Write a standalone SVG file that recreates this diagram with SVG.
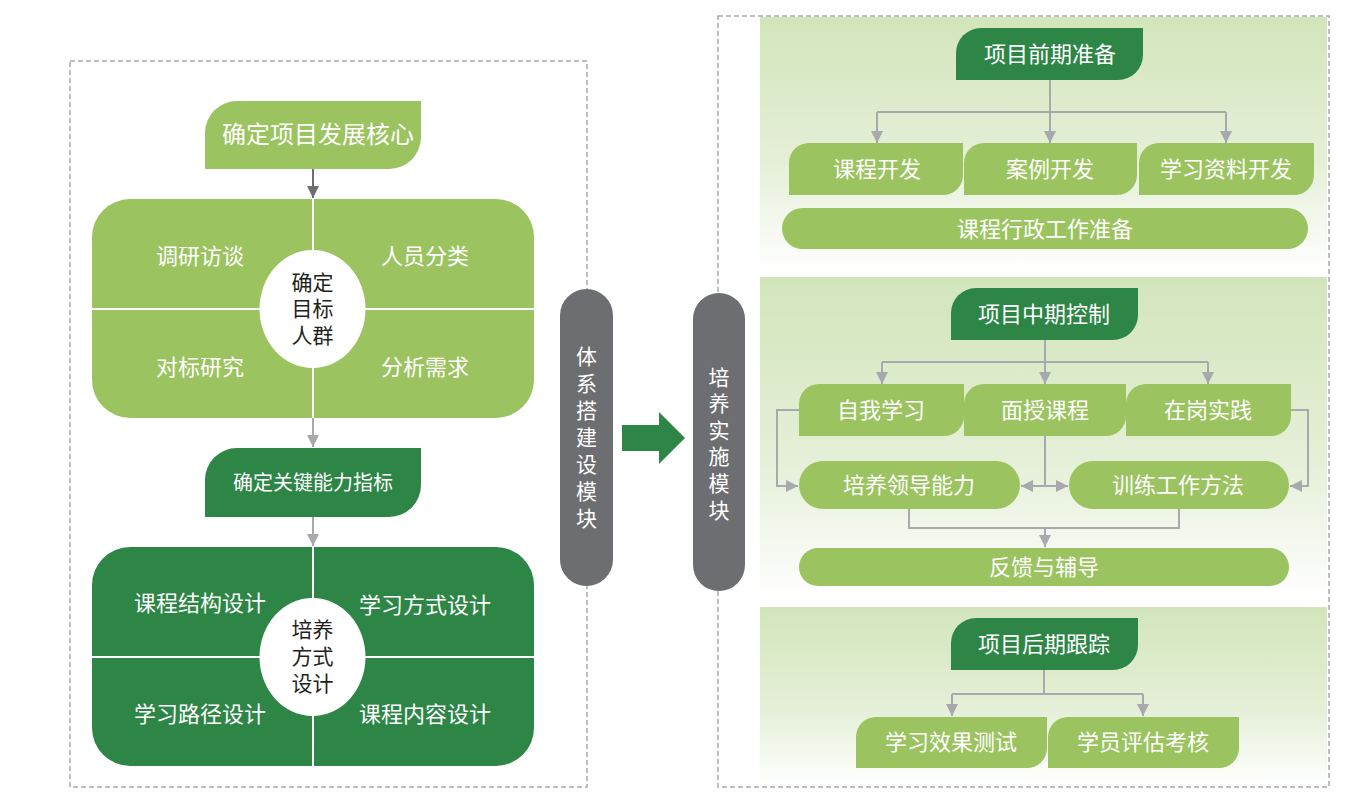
<svg xmlns="http://www.w3.org/2000/svg" width="1362" height="811" viewBox="0 0 1362 811">
<defs>
<style>
.t{font-family:"Noto Sans CJK SC","Noto Sans",sans-serif;fill:#fff;text-anchor:middle}
.tb{font-family:"Liberation Sans","Noto Sans CJK SC",sans-serif;fill:#231F20;text-anchor:middle}
.tv{font-family:"Noto Sans CJK SC","Noto Sans",sans-serif;fill:#fff;text-anchor:middle;writing-mode:vertical-rl;letter-spacing:6px}
.lg{fill:#9BC460}
.dg{fill:#2D8646}
.pill{fill:#6D6E71}
.dash{fill:none;stroke:#A7A9AC;stroke-width:1.5;stroke-dasharray:5 3}
.c{fill:none;stroke:#A7A9AC;stroke-width:2}
.cd{fill:none;stroke:#6D6E71;stroke-width:2}
.div{stroke:#fff;stroke-width:2}
</style>
<linearGradient id="pg" x1="0" y1="0" x2="0" y2="1">
<stop offset="0" stop-color="#D2E5BA"/>
<stop offset="0.6" stop-color="#E6F0DA"/>
<stop offset="1" stop-color="#FFFFFF"/>
</linearGradient>
<marker id="ah" viewBox="0 0 10 10" refX="10" refY="5" markerWidth="12" markerHeight="12" markerUnits="userSpaceOnUse" orient="auto"><path d="M0,0 L10,5 L0,10 z" fill="#A7A9AC"/></marker>
<marker id="ahd" viewBox="0 0 10 10" refX="10" refY="5" markerWidth="12" markerHeight="12" markerUnits="userSpaceOnUse" orient="auto"><path d="M0,0 L10,5 L0,10 z" fill="#6D6E71"/></marker>
</defs>
<rect width="1362" height="811" fill="#fff"/>

<!-- frames -->
<rect class="dash" x="70" y="61" width="517" height="726"/>
<rect class="dash" x="718" y="16" width="611" height="771"/>

<!-- right panels -->
<rect x="760" y="17" width="567" height="253" fill="url(#pg)"/>
<rect x="760" y="277" width="567" height="321" fill="url(#pg)"/>
<rect x="760" y="607" width="567" height="179" fill="url(#pg)"/>

<!-- connectors -->
<g id="connectors">
<line class="cd" x1="313" y1="169" x2="313" y2="198" marker-end="url(#ahd)"/>
<line class="c" x1="313" y1="418" x2="313" y2="447" marker-end="url(#ah)"/>
<line class="c" x1="313" y1="517" x2="313" y2="546" marker-end="url(#ah)"/>
<polygon points="622,425 659,425 659,412 685,438 659,464 659,451 622,451" fill="#2D8646"/>
<!-- panel 1 -->
<path class="c" d="M1050,80 V112"/>
<path class="c" d="M877,112 H1226"/>
<line class="c" x1="877" y1="112" x2="877" y2="143" marker-end="url(#ah)"/>
<line class="c" x1="1050" y1="112" x2="1050" y2="143" marker-end="url(#ah)"/>
<line class="c" x1="1226" y1="112" x2="1226" y2="143" marker-end="url(#ah)"/>
<!-- panel 2 -->
<path class="c" d="M1045,340 V362"/>
<path class="c" d="M882,362 H1208"/>
<line class="c" x1="882" y1="362" x2="882" y2="384" marker-end="url(#ah)"/>
<line class="c" x1="1045" y1="362" x2="1045" y2="384" marker-end="url(#ah)"/>
<line class="c" x1="1208" y1="362" x2="1208" y2="384" marker-end="url(#ah)"/>
<path class="c" d="M799,410 H777 V486 H798" marker-end="url(#ah)"/>
<path class="c" d="M1291,410 H1308 V486 H1290" marker-end="url(#ah)"/>
<path class="c" d="M1045,436 V486"/>
<line class="c" x1="1045" y1="486" x2="1021" y2="486" marker-end="url(#ah)"/>
<line class="c" x1="1045" y1="486" x2="1068" y2="486" marker-end="url(#ah)"/>
<path class="c" d="M909,509 V528 H1179 V509"/>
<line class="c" x1="1045" y1="528" x2="1045" y2="547" marker-end="url(#ah)"/>
<!-- panel 3 -->
<path class="c" d="M1044,670 V694"/>
<path class="c" d="M952,694 H1143"/>
<line class="c" x1="952" y1="694" x2="952" y2="716" marker-end="url(#ah)"/>
<line class="c" x1="1143" y1="694" x2="1143" y2="716" marker-end="url(#ah)"/>
</g>

<!-- left side nodes -->
<g id="n-core">
<path class="lg" d="M237,101 H421 V137 A32,32 0 0 1 389,169 H205 V133 A32,32 0 0 1 237,101 Z"/>
<text class="t" x="318" y="143" font-size="24">确定项目发展核心</text>
</g>
<g id="n-target">
<rect class="lg" x="92" y="199" width="442" height="219" rx="38"/>
<line class="div" x1="313" y1="199" x2="313" y2="418"/>
<line class="div" x1="92" y1="309" x2="534" y2="309"/>
<ellipse cx="312.5" cy="309" rx="53" ry="59" fill="#fff"/>
<text class="t" x="200" y="264" font-size="22">调研访谈</text>
<text class="t" x="425" y="264" font-size="22">人员分类</text>
<text class="t" x="200" y="375" font-size="22">对标研究</text>
<text class="t" x="425" y="375" font-size="22">分析需求</text>
<text class="tb" font-size="21"><tspan x="312.5" y="290">确定</tspan><tspan x="312.5" y="316">目标</tspan><tspan x="312.5" y="343">人群</tspan></text>
</g>
<g id="n-kpi">
<path class="dg" d="M237,448 H421 V485 A32,32 0 0 1 389,517 H205 V480 A32,32 0 0 1 237,448 Z"/>
<text class="t" x="313" y="490" font-size="20">确定关键能力指标</text>
</g>
<g id="n-mode">
<rect class="dg" x="92" y="547" width="442" height="219" rx="38"/>
<line class="div" x1="313" y1="547" x2="313" y2="766"/>
<line class="div" x1="92" y1="657" x2="534" y2="657"/>
<ellipse cx="312.5" cy="657" rx="53" ry="59" fill="#fff"/>
<text class="t" x="200" y="611" font-size="22">课程结构设计</text>
<text class="t" x="425" y="613" font-size="22">学习方式设计</text>
<text class="t" x="200" y="722" font-size="22">学习路径设计</text>
<text class="t" x="425" y="722" font-size="22">课程内容设计</text>
<text class="tb" font-size="21"><tspan x="312.5" y="637">培养</tspan><tspan x="312.5" y="664">方式</tspan><tspan x="312.5" y="691">设计</tspan></text>
</g>

<!-- gray pills -->
<g id="n-system">
<rect class="pill" x="560" y="289" width="53" height="297" rx="26.5"/>
<text class="tv" x="586.5" y="440" font-size="21">体系搭建设模块</text>
</g>
<g id="n-implement">
<rect class="pill" x="693" y="293" width="52" height="298" rx="26"/>
<text class="tv" x="719" y="446" font-size="21" style="letter-spacing:5.6px">培养实施模块</text>
</g>

<!-- panel 1 nodes -->
<g id="n-early">
<path class="dg" d="M981,28 H1143 V55 A25,25 0 0 1 1118,80 H956 V53 A25,25 0 0 1 981,28 Z"/>
<text class="t" x="1050" y="62" font-size="22">项目前期准备</text>
</g>
<g id="n-course-dev">
<path class="lg" d="M809,143 H963 V175 A20,20 0 0 1 943,195 H789 V163 A20,20 0 0 1 809,143 Z"/>
<text class="t" x="877" y="177" font-size="22">课程开发</text>
</g>
<g id="n-case-dev">
<path class="lg" d="M984,143 H1137 V175 A20,20 0 0 1 1117,195 H964 V163 A20,20 0 0 1 984,143 Z"/>
<text class="t" x="1050" y="177" font-size="22">案例开发</text>
</g>
<g id="n-material-dev">
<path class="lg" d="M1159,143 H1314 V175 A20,20 0 0 1 1294,195 H1139 V163 A20,20 0 0 1 1159,143 Z"/>
<text class="t" x="1226" y="177" font-size="22">学习资料开发</text>
</g>
<g id="n-admin">
<rect class="lg" x="782" y="208" width="526" height="41" rx="20.5"/>
<text class="t" x="1045" y="237" font-size="22">课程行政工作准备</text>
</g>

<!-- panel 2 nodes -->
<g id="n-mid">
<path class="dg" d="M976,288 H1138 V315 A25,25 0 0 1 1113,340 H951 V313 A25,25 0 0 1 976,288 Z"/>
<text class="t" x="1044" y="322" font-size="22">项目中期控制</text>
</g>
<g id="n-self">
<path class="lg" d="M819,384 H964 V416 A20,20 0 0 1 944,436 H799 V404 A20,20 0 0 1 819,384 Z"/>
<text class="t" x="881" y="418" font-size="22">自我学习</text>
</g>
<g id="n-class">
<path class="lg" d="M984,384 H1126 V416 A20,20 0 0 1 1106,436 H964 V404 A20,20 0 0 1 984,384 Z"/>
<text class="t" x="1045" y="418" font-size="22">面授课程</text>
</g>
<g id="n-onjob">
<path class="lg" d="M1146,384 H1291 V416 A20,20 0 0 1 1271,436 H1126 V404 A20,20 0 0 1 1146,384 Z"/>
<text class="t" x="1208" y="418" font-size="22">在岗实践</text>
</g>
<g id="n-lead">
<rect class="lg" x="799" y="461" width="221" height="48" rx="24"/>
<text class="t" x="909" y="493" font-size="22">培养领导能力</text>
</g>
<g id="n-method">
<rect class="lg" x="1069" y="461" width="220" height="48" rx="24"/>
<text class="t" x="1178" y="493" font-size="22">训练工作方法</text>
</g>
<g id="n-feedback">
<rect class="lg" x="799" y="548" width="490" height="38" rx="19"/>
<text class="t" x="1044" y="575" font-size="22">反馈与辅导</text>
</g>

<!-- panel 3 nodes -->
<g id="n-late">
<path class="dg" d="M976,618 H1138 V645 A25,25 0 0 1 1113,670 H951 V643 A25,25 0 0 1 976,618 Z"/>
<text class="t" x="1044" y="652" font-size="22">项目后期跟踪</text>
</g>
<g id="n-test">
<path class="lg" d="M876,717 H1047 V748 A20,20 0 0 1 1027,768 H856 V737 A20,20 0 0 1 876,717 Z"/>
<text class="t" x="951" y="750" font-size="22">学习效果测试</text>
</g>
<g id="n-eval">
<path class="lg" d="M1068,717 H1239 V748 A20,20 0 0 1 1219,768 H1048 V737 A20,20 0 0 1 1068,717 Z"/>
<text class="t" x="1143" y="750" font-size="22">学员评估考核</text>
</g>
</svg>
